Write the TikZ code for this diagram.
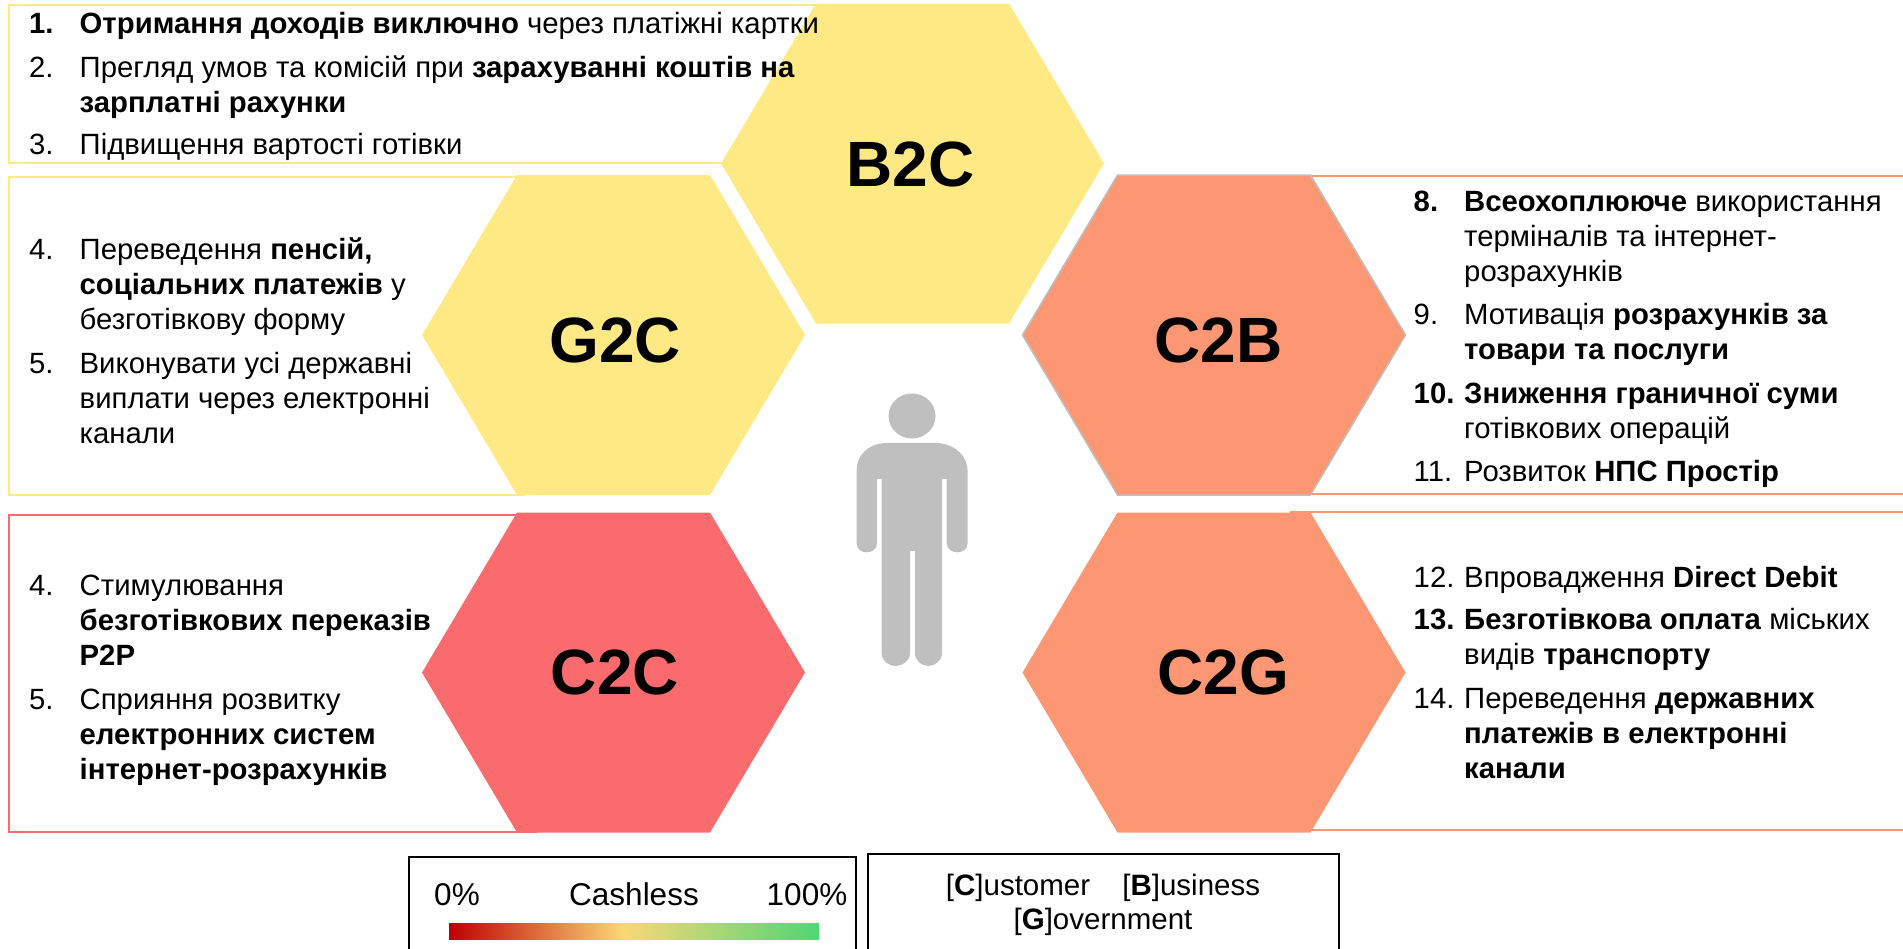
\documentclass[tikz,border=0pt]{standalone}
\usepackage{fontspec}
\setmainfont{Liberation Sans}
\usepackage{tikz}
\usetikzlibrary{shapes.symbols}
\definecolor{hexyellow}{RGB}{254,233,133}
\definecolor{hexorange}{RGB}{252,150,115}
\definecolor{hexred}{RGB}{250,107,110}
\definecolor{persongray}{RGB}{191,191,191}
\definecolor{barred}{RGB}{192,0,0}
\definecolor{barmid}{RGB}{250,215,118}
\definecolor{bargreen}{RGB}{79,214,117}
\tikzstyle{hexcell} = [signal, signal to=east and west, signal pointer angle=118.6, minimum width=383pt, minimum height=320pt, inner sep=0pt]
\tikzstyle{biglabel} = [anchor=base, inner sep=0pt, font=\fontsize{64}{64}\selectfont\bfseries]
\tikzstyle{itemnum} = [anchor=base west, inner sep=0pt, font=\fontsize{29.3}{35}\selectfont]
\tikzstyle{itemtext} = [anchor=base west, inner sep=0pt, align=left, font=\fontsize{29.3}{35}\selectfont]
\tikzstyle{legendtext} = [anchor=base, inner sep=0pt, align=center, font=\fontsize{31.5}{35}\selectfont]
\tikzstyle{actortext} = [anchor=base, inner sep=0pt, align=center, font=\fontsize{29.5}{35}\selectfont]
\begin{document}
\begin{tikzpicture}[x=1pt, y=-1pt]
		\useasboundingbox (0,0) rectangle (1903,948);
		\draw [hexyellow, line width=2pt] (8.5,5) rectangle (815,163);
		\draw [hexyellow, line width=2pt] (8.5,177) rectangle (524,495);
		\draw [hexred, line width=2pt] (8.5,515) rectangle (536,832);
		\draw [hexorange, line width=2pt] (1300,176) rectangle (1915,494);
		\draw [hexorange, line width=2pt] (1291,512) rectangle (1915,830);
		\node (b2c) [hexcell, fill=hexyellow] at (912.5,163.5) {};
		\node (g2c) [hexcell, fill=hexyellow] at (613.5,335) {};
		\node (c2b) [hexcell, fill=hexorange, draw=persongray, line width=1.5pt] at (1214,335) {};
		\node (c2c) [hexcell, fill=hexred] at (613.5,672.5) {};
		\node (c2g) [hexcell, fill=hexorange] at (1214,672.5) {};
		\node (b2clabel) [biglabel] at (910.5,186) {B2C};
		\node (g2clabel) [biglabel] at (615,362) {G2C};
		\node (c2blabel) [biglabel] at (1218.5,362) {C2B};
		\node (c2clabel) [biglabel] at (615,694) {C2C};
		\node (c2glabel) [biglabel] at (1223,694) {C2G};
		\node (num1) [itemnum] at (29,33) {\textbf{1.}};
		\node (item1) [itemtext] at (79.5,33) {\textbf{Отримання доходів виключно} через платіжні картки};
		\node (num2) [itemnum] at (29,77) {2.};
		\node (item2) [itemtext] at (79.5,112) {Прегляд умов та комісій при \textbf{зарахуванні коштів на}\\\textbf{зарплатні рахунки}};
		\node (num3) [itemnum] at (29,154) {3.};
		\node (item3) [itemtext] at (79.5,154) {Підвищення вартості готівки};
		\node (num4) [itemnum] at (29,259) {4.};
		\node (item4) [itemtext] at (79.5,329) {Переведення \textbf{пенсій,}\\\textbf{соціальних платежів} у\\безготівкову форму};
		\node (num5) [itemnum] at (29,373) {5.};
		\node (item5) [itemtext] at (79.5,443) {Виконувати усі державні\\виплати через електронні\\канали};
		\node (num6) [itemnum] at (29,595) {4.};
		\node (item6) [itemtext] at (79.5,665) {Стимулювання\\\textbf{безготівкових переказів}\\\textbf{P2P}};
		\node (num7) [itemnum] at (29,709) {5.};
		\node (item7) [itemtext] at (79.5,779) {Сприяння розвитку\\\textbf{електронних систем}\\\textbf{інтернет-розрахунків}};
		\node (num8) [itemnum] at (1413.5,211) {\textbf{8.}};
		\node (item8) [itemtext] at (1464,281) {\textbf{Всеохоплююче} використання\\терміналів та інтернет-\\розрахунків};
		\node (num9) [itemnum] at (1413.5,324) {9.};
		\node (item9) [itemtext] at (1464,359) {Мотивація \textbf{розрахунків за}\\\textbf{товари та послуги}};
		\node (num10) [itemnum] at (1413.5,403) {\textbf{10.}};
		\node (item10) [itemtext] at (1464,438) {\textbf{Зниження граничної суми}\\готівкових операцій};
		\node (num11) [itemnum] at (1413.5,481) {11.};
		\node (item11) [itemtext] at (1464,481) {Розвиток \textbf{НПС Простір}};
		\node (num12) [itemnum] at (1413.5,587) {12.};
		\node (item12) [itemtext] at (1464,587) {Впровадження \textbf{Direct Debit}};
		\node (num13) [itemnum] at (1413.5,629) {\textbf{13.}};
		\node (item13) [itemtext] at (1464,664) {\textbf{Безготівкова оплата} міських\\видів \textbf{транспорту}};
		\node (num14) [itemnum] at (1413.5,708) {14.};
		\node (item14) [itemtext] at (1464,778) {Переведення \textbf{державних}\\\textbf{платежів в електронні}\\\textbf{канали}};
		\fill [persongray] (912,416) ellipse [x radius=23.5pt, y radius=22.5pt];
		\begin{scope}[shift={(820,370)}, x=0.3333pt, y=-0.3333pt]
		\fill [persongray] (195,219) -- (355,219) .. controls (410,225) and (443,260) .. (443,305) -- (443,520) .. controls (443,540) and (425,547) .. (412,547) .. controls (397,547) and (380,538) .. (380,520) -- (380,327) -- (366,327) -- (366,850) .. controls (366,872) and (345,888) .. (325,888) .. controls (305,888) and (285,872) .. (285,850) -- (285,543) -- (270,543) -- (270,850) .. controls (270,872) and (248,888) .. (228,888) .. controls (205,888) and (185,872) .. (185,850) -- (185,327) -- (171,327) -- (171,520) .. controls (171,538) and (155,547) .. (140,547) .. controls (125,547) and (110,538) .. (110,520) -- (110,300) .. controls (110,255) and (145,222) .. (195,219) -- cycle;
		\end{scope}
		\draw [black, line width=2pt] (409,857) rectangle (856,960);
		\draw [black, line width=2pt] (868,854) rectangle (1339,960);
		\node (zero) [legendtext] at (457,905) {0\%};
		\node (cashless) [legendtext] at (634,905) {Cashless};
		\node (hundred) [legendtext] at (807,905) {100\%};
		\node (barleft) [left color=barred, right color=barmid, minimum width=174pt, minimum height=16pt, inner sep=0pt, anchor=north west] at (449,923) {};
		\node (barright) [left color=barmid, right color=bargreen, minimum width=196pt, minimum height=16pt, inner sep=0pt, anchor=north west] at (623,923) {};
		\node (actors) [actortext] at (1103,895) {[\textbf{C}]ustomer\hspace{24pt} [\textbf{B}]usiness};
		\node (actorsg) [actortext] at (1103,929) {[\textbf{G}]overnment};
\end{tikzpicture}
\end{document}
